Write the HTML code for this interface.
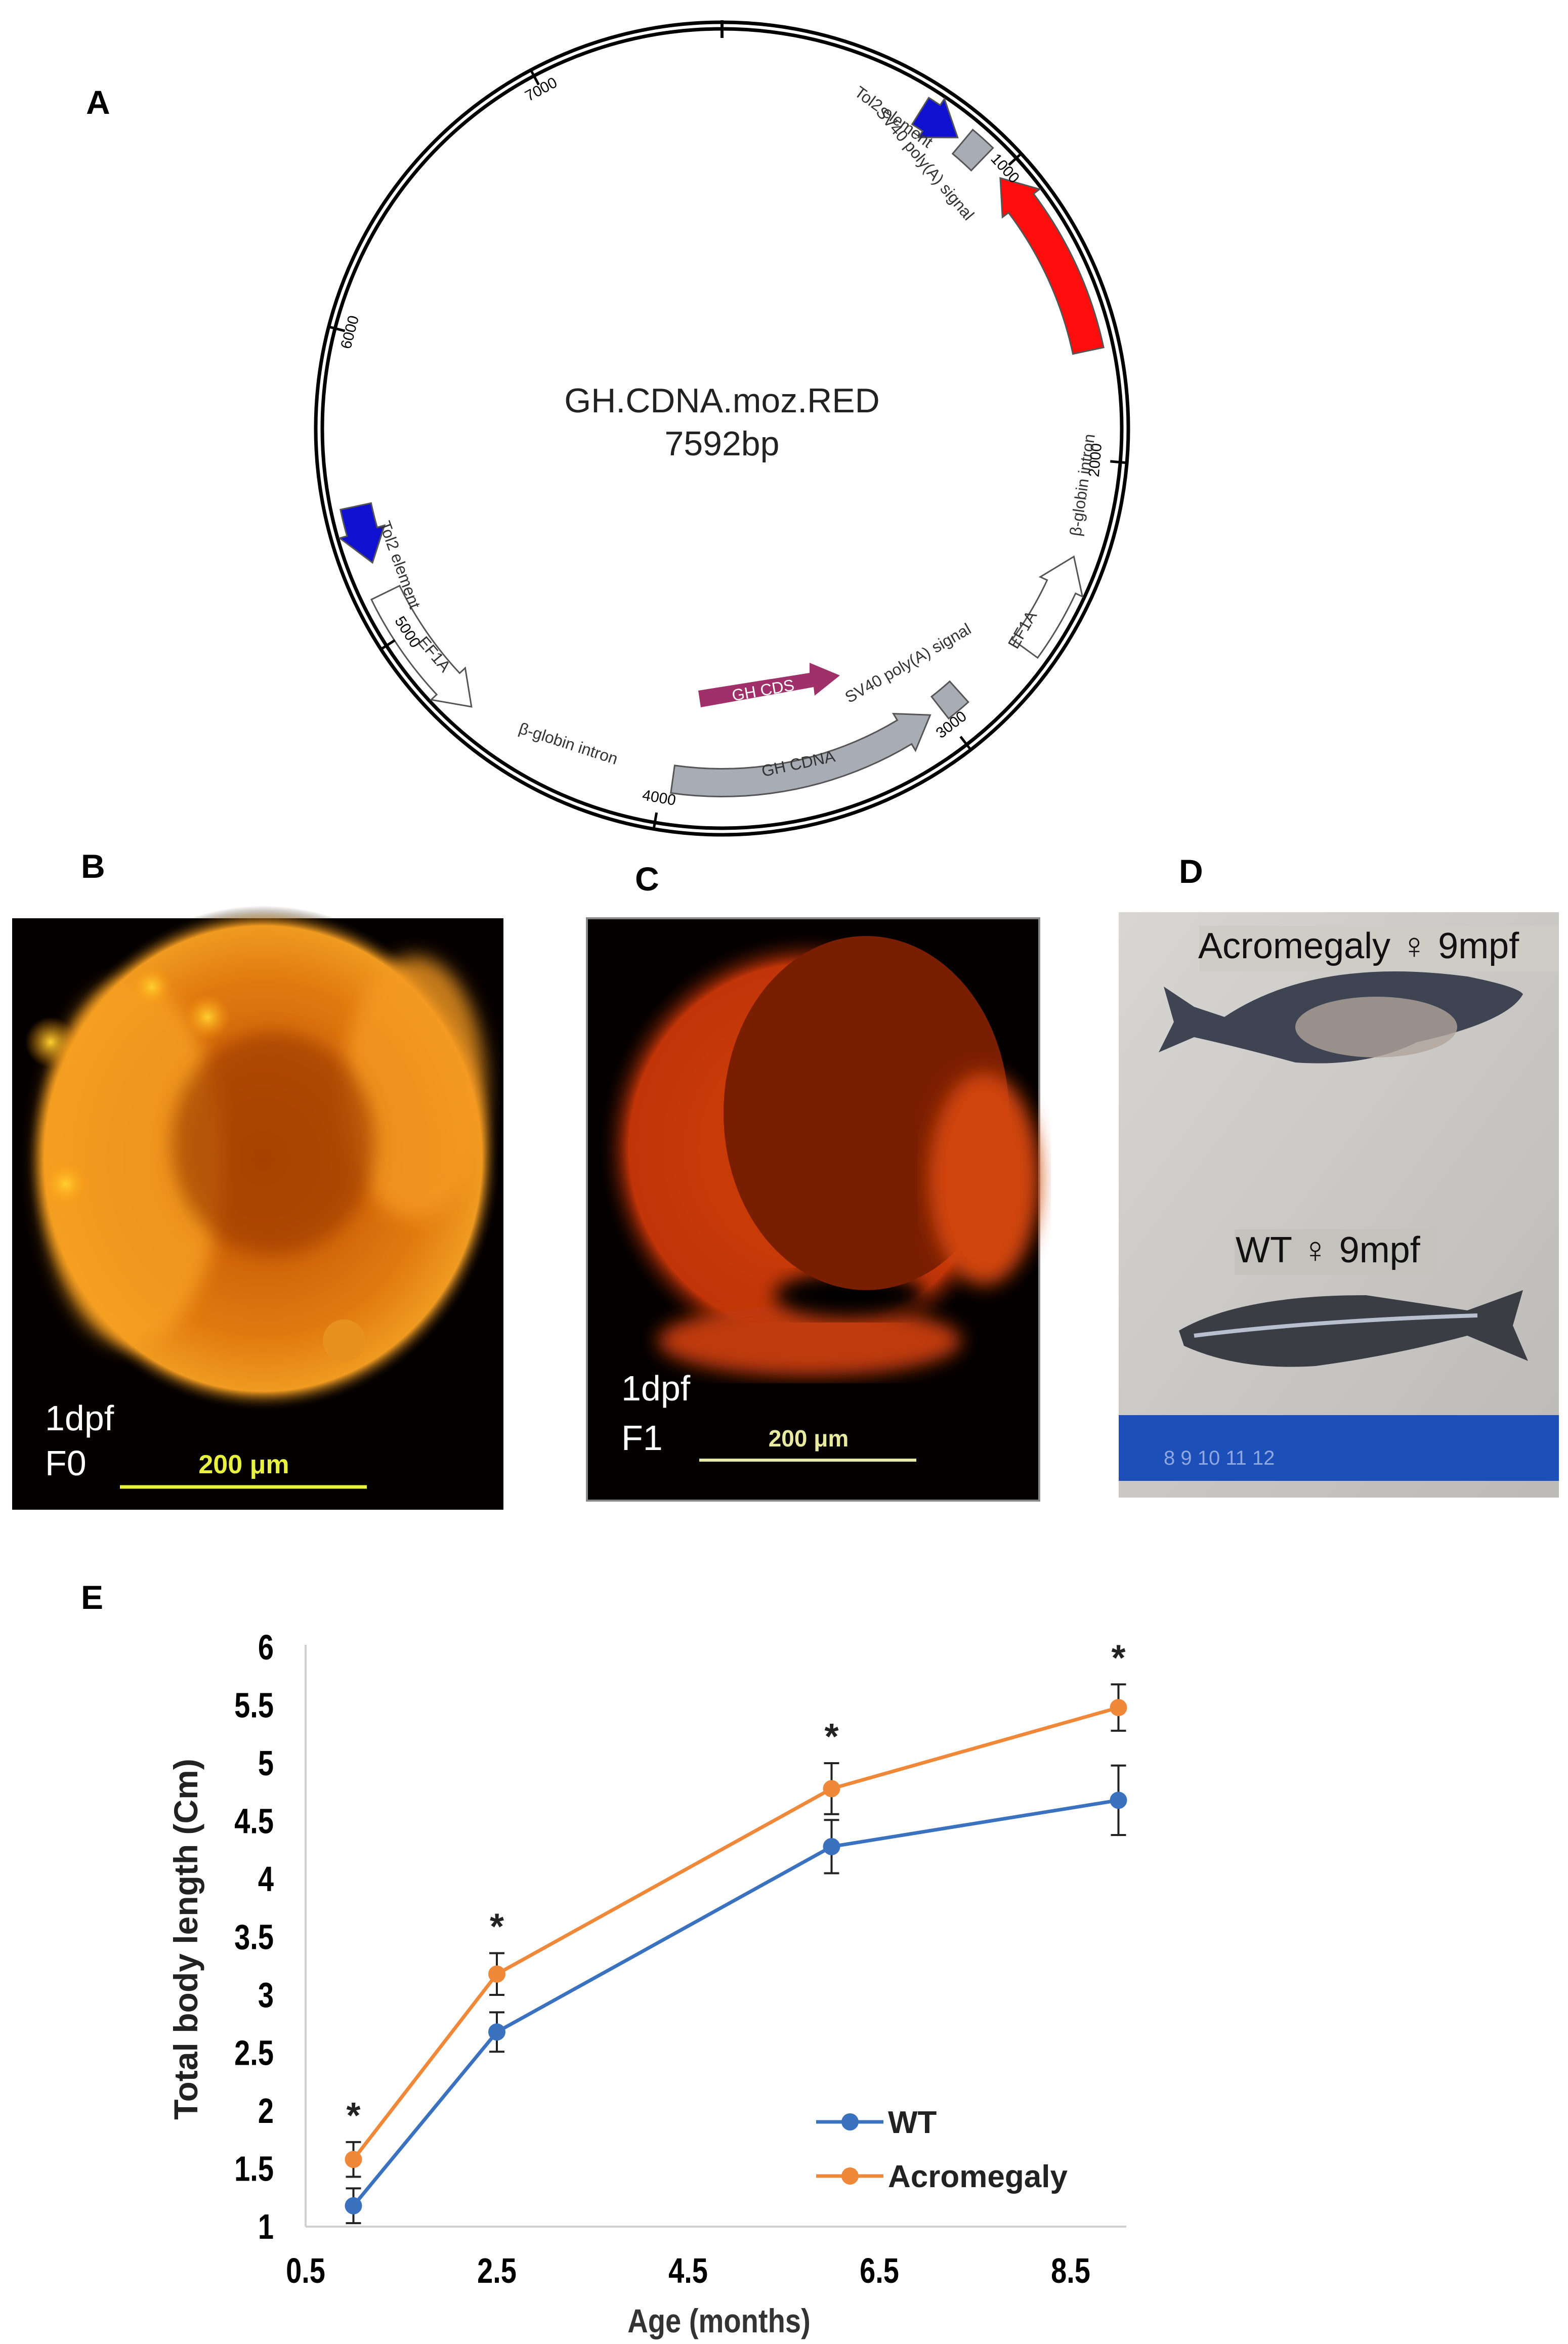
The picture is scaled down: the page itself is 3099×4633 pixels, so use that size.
<!DOCTYPE html>
<html><head><meta charset="utf-8"><style>
html,body{margin:0;padding:0;background:#fff}
svg{display:block}
text{font-family:"Liberation Sans",sans-serif}
</style></head><body>
<svg id="fig" width="3099" height="4633" viewBox="0 0 3099 4633" xmlns="http://www.w3.org/2000/svg">
<defs>
<radialGradient id="gB" cx="50%" cy="50%" r="50%"><stop offset="0" stop-color="#b84a00"/><stop offset="0.7" stop-color="#e07a10"/><stop offset="0.92" stop-color="#f09a20"/><stop offset="1" stop-color="#000" stop-opacity="0"/></radialGradient>
<radialGradient id="gY" cx="50%" cy="50%" r="50%"><stop offset="0" stop-color="#ffd030"/><stop offset="1" stop-color="#ff9a10" stop-opacity="0"/></radialGradient>
<radialGradient id="gC" cx="50%" cy="50%" r="50%"><stop offset="0.5" stop-color="#c83a08"/><stop offset="0.85" stop-color="#c03408"/><stop offset="1" stop-color="#000" stop-opacity="0"/></radialGradient>
<linearGradient id="gD" x1="0" y1="0" x2="1" y2="1"><stop offset="0" stop-color="#d8d6d2"/><stop offset="1" stop-color="#bcbab6"/></linearGradient>
<filter id="bl"><feGaussianBlur stdDeviation="18"/></filter>
</defs>

<!-- Panel A -->
<text x="170" y="225" font-size="66" font-weight="bold">A</text>
<g id="plasmid">
<circle cx="1427" cy="847" r="803" fill="none" stroke="#000" stroke-width="7"/>
<circle cx="1427" cy="847" r="790" fill="none" stroke="#000" stroke-width="7"/>
<line x1="1427" y1="40" x2="1427" y2="75" stroke="#000" stroke-width="6"/>
<text x="1427" y="815" font-size="68" text-anchor="middle" fill="#222">GH.CDNA.moz.RED</text>
<text x="1427" y="900" font-size="68" text-anchor="middle" fill="#222">7592bp</text>
</g>

<!-- Panel B -->
<text x="160" y="1735" font-size="66" font-weight="bold">B</text>
<g>
<rect x="24" y="1815" width="971" height="1169" fill="#050000"/>
<ellipse cx="520" cy="2290" rx="470" ry="500" fill="url(#gB)"/>
<ellipse cx="260" cy="2300" rx="180" ry="360" fill="#f7a020" opacity="0.8" filter="url(#bl)"/>
<ellipse cx="820" cy="2150" rx="140" ry="260" fill="#f59a20" opacity="0.8" filter="url(#bl)"/>
<ellipse cx="540" cy="2260" rx="200" ry="220" fill="#a03c00" opacity="0.7" filter="url(#bl)"/>
<circle cx="300" cy="1950" r="40" fill="url(#gY)"/><circle cx="100" cy="2060" r="50" fill="url(#gY)"/>
<circle cx="410" cy="2010" r="45" fill="url(#gY)"/><circle cx="130" cy="2340" r="45" fill="url(#gY)"/>
<circle cx="680" cy="2650" r="42" fill="#e89020"/>
<text x="89" y="2827" font-size="70" fill="#fff">1dpf</text>
<text x="89" y="2916" font-size="70" fill="#fff">F0</text>
<text x="482" y="2912" font-size="52" font-weight="bold" fill="#e8f040" text-anchor="middle">200 μm</text>
<line x1="237" y1="2939" x2="725" y2="2939" stroke="#e8f040" stroke-width="7"/>
</g>

<!-- Panel C -->
<text x="1255" y="1760" font-size="66" font-weight="bold">C</text>
<g>
<rect x="1160" y="1815" width="894" height="1151" fill="#040000" stroke="#888" stroke-width="4"/>
<ellipse cx="1600" cy="2270" rx="420" ry="430" fill="url(#gC)"/>
<ellipse cx="1600" cy="2650" rx="300" ry="70" fill="#c03a0a" filter="url(#bl)"/>
<ellipse cx="1680" cy="2560" rx="150" ry="45" fill="#060000" filter="url(#bl)"/>
<ellipse cx="1712" cy="2200" rx="282" ry="350" fill="#7a1e02"/>
<ellipse cx="1945" cy="2330" rx="110" ry="210" fill="#d04510" filter="url(#bl)"/>
<text x="1228" y="2768" font-size="70" fill="#fff">1dpf</text>
<text x="1228" y="2866" font-size="70" fill="#fff">F1</text>
<text x="1598" y="2859" font-size="46" font-weight="bold" fill="#e8eaa0" text-anchor="middle">200 μm</text>
<line x1="1382" y1="2886" x2="1811" y2="2886" stroke="#e8eaa0" stroke-width="6"/>
</g>

<!-- Panel D -->
<text x="2330" y="1745" font-size="66" font-weight="bold">D</text>
<g>
<rect x="2211" y="1803" width="870" height="1157" fill="url(#gD)"/>
<rect x="2370" y="1830" width="710" height="90" fill="#cfccc6"/>
<text x="2368" y="1894" font-size="72" fill="#111">Acromegaly ♀ 9mpf</text>
<path d="M2300 1950 L2360 1990 L2420 2010 Q2600 1890 2900 1930 Q3000 1950 3010 1965 Q2980 2020 2800 2060 Q2700 2110 2560 2100 Q2450 2070 2360 2050 L2290 2080 L2320 2020 Z" fill="#3e4452"/>
<ellipse cx="2720" cy="2030" rx="160" ry="60" fill="#b0a49a" opacity="0.8"/>
<rect x="2440" y="2430" width="400" height="90" fill="#c4c2bd"/>
<text x="2442" y="2495" font-size="72" fill="#111">WT ♀ 9mpf</text>
<path d="M2330 2630 Q2450 2560 2700 2560 L2900 2590 L3010 2550 L2990 2620 L3020 2690 L2900 2640 Q2750 2680 2600 2700 Q2450 2710 2340 2660 Z" fill="#3a3e44"/>
<path d="M2360 2640 Q2600 2610 2920 2600" stroke="#b8c0d0" stroke-width="8" fill="none"/>
<rect x="2211" y="2797" width="870" height="130" fill="#1c4fb8"/>
<text x="2300" y="2895" font-size="40" fill="#8fa8e0">8     9     10     11    12</text>
</g>

<!-- Panel E -->
<text x="160" y="3180" font-size="66" font-weight="bold">E</text>
<g id="chart"></g>
</svg>
<script>
const NS='http://www.w3.org/2000/svg';
// ---- plasmid features ----
const featNames=['DsRed2','Tol2 element','SV40 poly(A) signal','GH CDNA','SV40 poly(A) signal','EF1A','EF1A','Tol2 element'];
const featStart=[78,32,44,188,142,126,244,258];
const featEnd=[48,39,40,144,138,110,222,249];
const featColor=['#ff0d0d','#1010d0','#a8acb4','#a8acb4','#a8acb4','#ffffff','#ffffff','#1010d0'];
const featBox=[false,false,true,false,true,false,false,false];
const tickLabels=['1000','2000','3000','4000','5000','6000','7000'];
const tickBp=[1000,2000,3000,4000,5000,6000,7000];
const totalBp=7592;
const cx=1427,cy=847;
const pl=document.getElementById('plasmid');
function pt(a,r){const t=a*Math.PI/180;return [cx+r*Math.sin(t),cy-r*Math.cos(t)];}
function mk(tag,attrs){const e=document.createElementNS(NS,tag);for(const k in attrs)e.setAttribute(k,attrs[k]);return e;}
featNames.forEach((n,i)=>{
  const a0=featStart[i],a1=featEnd[i],r=(i===3||i===4)?700:740,w=(i===3||i===4)?55:62;
  const dir=a1>a0?1:-1,head=featBox[i]?0:dir*5;
  const ae=a1-head;
  const p=[];
  const steps=20;
  for(let k=0;k<=steps;k++){const a=a0+(ae-a0)*k/steps;p.push(pt(a,r+w/2));}
  if(!featBox[i]){p.push(pt(ae,r+w/2+15));p.push(pt(a1,r));p.push(pt(ae,r-w/2-15));}
  for(let k=steps;k>=0;k--){const a=a0+(ae-a0)*k/steps;p.push(pt(a,r-w/2));}
  const poly=mk('polygon',{points:p.map(q=>q.join(',')).join(' '),fill:featColor[i],stroke:'#555','stroke-width':3});
  
  
  pl.appendChild(poly);
});
tickBp.forEach((b,i)=>{
  const a=b/totalBp*360;const p1=pt(a,770),p2=pt(a,800),pl2=pt(a,750);
  const l=mk('line',{x1:p1[0],y1:p1[1],x2:p2[0],y2:p2[1],stroke:'#000','stroke-width':5});
  
  
  pl.appendChild(l);
  const t=mk('text',{x:pl2[0],y:pl2[1],'font-size':30,'text-anchor':'middle',transform:`rotate(${a>90&&a<270?a-180:a} ${pl2[0]} ${pl2[1]})`});
  t.textContent=tickLabels[i];
  
  
  pl.appendChild(t);
});
const lbl=[['Tol2 element',1760,240,36],['SV40 poly(A) signal',1820,330,50],['β-globin intron',2150,960,-82],['EF1A',2030,1250,-60],['SV40 poly(A) signal',1800,1320,-30],['GH CDNA',1580,1520,-12],['β-globin intron',1120,1480,18],['EF1A',850,1300,50],['Tol2 element',780,1120,70],['GH CDS',1510,1375,-10]];
lbl.forEach(d=>{const t=mk('text',{x:d[1],y:d[2],'font-size':32,fill:d[0]==='GH CDS'?'#fff':'#333','text-anchor':'middle',transform:`rotate(${d[3]} ${d[1]} ${d[2]})`});t.textContent=d[0];


if(d[0]==='GH CDS'){const r=mk('polygon',{points:'1380,1365 1600,1330 1600,1310 1660,1335 1610,1375 1608,1358 1385,1398',fill:'#a0306a'});


pl.appendChild(r);}
pl.appendChild(t);});

// ---- chart E data ----
const ages=[1,2.5,6,9];
const wtMean=[1.18,2.68,4.28,4.68];
const wtErr=[0.15,0.17,0.23,0.3];
const acMean=[1.58,3.18,4.78,5.48];
const acErr=[0.15,0.18,0.22,0.2];
const yTicks=[1,1.5,2,2.5,3,3.5,4,4.5,5,5.5,6];
const xTicks=[0.5,2.5,4.5,6.5,8.5];
const xLabels=['0.5','2.5','4.5','6.5','8.5'];
const yLabels=['1','1.5','2','2.5','3','3.5','4','4.5','5','5.5','6'];
const X=v=>604+(v-0.5)*(2116-604)/8;
const Y=v=>4401-(v-1)*(4401-3256)/5;
const g=document.getElementById('chart');
function add(tag,attrs,name,txt){const e=mk(tag,attrs);if(txt!==undefined)e.textContent=txt;g.appendChild(e);return e;}
add('line',{x1:X(0.5),y1:Y(6)-5,x2:X(0.5),y2:Y(1),stroke:'#d0d0d0','stroke-width':4},'y-axis-line');
add('line',{x1:X(0.5),y1:Y(1),x2:2226,y2:Y(1),stroke:'#d0d0d0','stroke-width':4},'x-axis-line');
yTicks.forEach((v,i)=>add('text',{x:541,y:Y(v)+24,'font-size':70,'font-weight':'bold','text-anchor':'end',transform:`scale(0.8,1)`,'transform-origin':`541 ${Y(v)}`},'y-tick-label',yLabels[i]));
xTicks.forEach((v,i)=>add('text',{x:X(v),y:4512,'font-size':70,'font-weight':'bold','text-anchor':'middle',transform:'scale(0.8,1)','transform-origin':`${X(v)} 4500`},'x-tick-label',xLabels[i]));
add('text',{x:1421,y:4610,'font-size':66,'font-weight':'bold','text-anchor':'middle',fill:'#333',transform:'scale(0.85,1)','transform-origin':'1421 4600'},'x-axis-title','Age (months)');
add('text',{x:390,y:3833,'font-size':66,'font-weight':'bold','text-anchor':'middle',fill:'#222',transform:'rotate(-90 390 3833)'},'y-axis-title','Total body length (Cm)');
function series(mean,err,color,name,star){
  add('polyline',{points:ages.map((a,i)=>X(a)+','+Y(mean[i])).join(' '),fill:'none',stroke:color,'stroke-width':7},name+'-line');
  ages.forEach((a,i)=>{
    const x=X(a);
    add('line',{x1:x,y1:Y(mean[i]+err[i]),x2:x,y2:Y(mean[i]-err[i]),stroke:'#222','stroke-width':4},name+'-error-bar');
    add('line',{x1:x-15,y1:Y(mean[i]+err[i]),x2:x+15,y2:Y(mean[i]+err[i]),stroke:'#222','stroke-width':4},name+'-error-cap');
    add('line',{x1:x-15,y1:Y(mean[i]-err[i]),x2:x+15,y2:Y(mean[i]-err[i]),stroke:'#222','stroke-width':4},name+'-error-cap');
    add('circle',{cx:x,cy:Y(mean[i]),r:17,fill:color},name+'-point');
    if(star)add('text',{x:x,y:Y(mean[i]+err[i])-28,'font-size':72,'font-weight':'bold','text-anchor':'middle',fill:'#222'},'significance-asterisk','*');
  });
}
series(wtMean,wtErr,'#3a72c0','wt',false);
series(acMean,acErr,'#f0883a','acromegaly',true);
add('line',{x1:1613,y1:4194,x2:1746,y2:4194,stroke:'#3a72c0','stroke-width':7},'legend-wt-line');
add('circle',{cx:1680,cy:4194,r:17,fill:'#3a72c0'},'legend-wt-marker');
add('text',{x:1755,y:4216,'font-size':62,'font-weight':'bold',fill:'#222'},'legend-wt-label','WT');
add('line',{x1:1613,y1:4301,x2:1746,y2:4301,stroke:'#f0883a','stroke-width':7},'legend-acromegaly-line');
add('circle',{cx:1680,cy:4301,r:17,fill:'#f0883a'},'legend-acromegaly-marker');
add('text',{x:1755,y:4323,'font-size':62,'font-weight':'bold',fill:'#222'},'legend-acromegaly-label','Acromegaly');
</script>
</body></html>
